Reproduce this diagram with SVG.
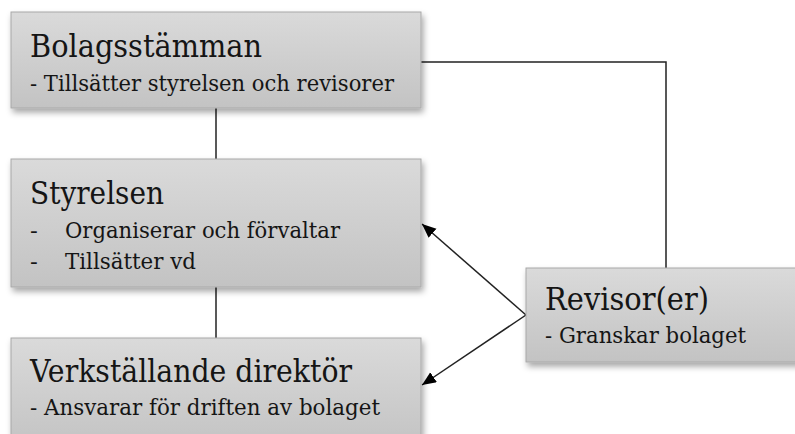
<svg xmlns="http://www.w3.org/2000/svg" width="795" height="434" viewBox="0 0 795 434">
<defs>
<linearGradient id="g" x1="0" y1="0" x2="0" y2="1">
<stop offset="0" stop-color="#dadada"/>
<stop offset="1" stop-color="#c3c3c3"/>
</linearGradient>
<filter id="sh" x="-10%" y="-10%" width="125%" height="135%">
<feDropShadow dx="2" dy="4" stdDeviation="3" flood-color="#000" flood-opacity="0.35"/>
</filter>
<marker id="arr" markerUnits="userSpaceOnUse" markerWidth="16" markerHeight="14" refX="14" refY="6" orient="auto">
<path d="M0,0 L14,6 L0,12 Z" fill="#000"/>
</marker>
<style>
.box{fill:url(#g);stroke:#a8a8a8;stroke-width:1;filter:url(#sh)}
.t{fill:#151515}
.h{font-size:31px}
.s{font-size:23px}
.ln{fill:none;stroke:#222;stroke-width:1.5}
</style>
</defs>
<rect width="795" height="434" fill="#fff"/>
<g id="connectors">
<line class="ln" x1="216" y1="108" x2="216" y2="159"/>
<line class="ln" x1="216" y1="287" x2="216" y2="338"/>
<polyline class="ln" points="421,62 666,62 666,268"/>
<line class="ln" x1="526" y1="315" x2="422" y2="224" marker-end="url(#arr)"/>
<line class="ln" x1="526" y1="315" x2="422" y2="385" marker-end="url(#arr)"/>
</g>
<g font-family="DejaVu Serif, serif">
<g id="bolagsstamman">
<rect class="box" x="11" y="12" width="410" height="96"/>
<text class="t h" x="30" y="57" textLength="232" lengthAdjust="spacingAndGlyphs">Bolagsstämman</text>
<text class="t s" x="30" y="91" textLength="364" lengthAdjust="spacingAndGlyphs">- Tillsätter styrelsen och revisorer</text>
</g>
<g id="styrelsen">
<rect class="box" x="11" y="159" width="410" height="128"/>
<text class="t h" x="30" y="204" textLength="134" lengthAdjust="spacingAndGlyphs">Styrelsen</text>
<text class="t s" x="30" y="238">-</text>
<text class="t s" x="65" y="238" textLength="275" lengthAdjust="spacingAndGlyphs">Organiserar och förvaltar</text>
<text class="t s" x="30" y="269">-</text>
<text class="t s" x="65" y="269" textLength="131" lengthAdjust="spacingAndGlyphs">Tillsätter vd</text>
</g>
<g id="vd">
<rect class="box" x="11" y="338" width="410" height="110"/>
<text class="t h" x="30" y="382" textLength="322" lengthAdjust="spacingAndGlyphs">Verkställande direktör</text>
<text class="t s" x="30" y="415" textLength="350" lengthAdjust="spacingAndGlyphs">- Ansvarar för driften av bolaget</text>
</g>
<g id="revisorer">
<rect class="box" x="526" y="268" width="280" height="94"/>
<text class="t h" x="545" y="310" textLength="164" lengthAdjust="spacingAndGlyphs">Revisor(er)</text>
<text class="t s" x="545" y="343" textLength="201" lengthAdjust="spacingAndGlyphs">- Granskar bolaget</text>
</g>
</g>
</svg>
